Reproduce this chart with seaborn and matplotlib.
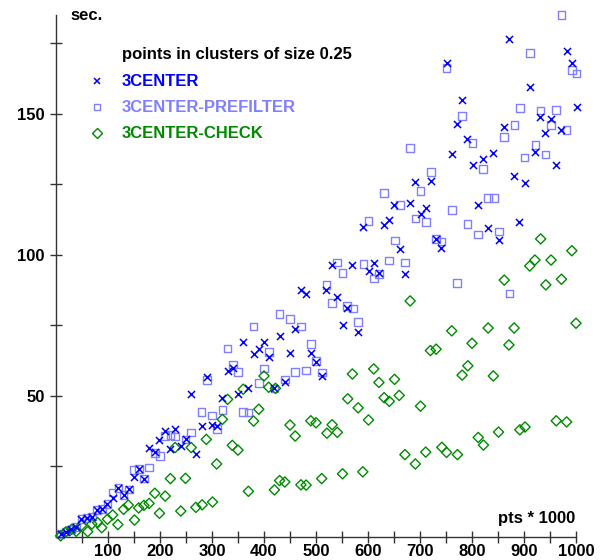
import matplotlib
matplotlib.use("Agg")
import matplotlib.pyplot as plt
import seaborn as sns
import pandas as pd

# ---------------- data ----------------
center_x = [9, 19, 29, 38, 49, 59, 69, 79, 89, 99, 109, 120, 130, 140, 150, 160, 170, 179, 190, 199,
            210, 219, 229, 240, 250, 260, 269, 280, 290, 300, 310, 320, 330, 340, 350, 360, 370, 380, 390, 400,
            410, 420, 430, 440, 450, 460, 471, 481, 490, 500, 511, 520, 530, 540, 551, 560, 570, 581, 590, 601,
            611, 621, 631, 641, 650, 662, 671, 681, 690, 701, 711, 721, 731, 741, 751, 761, 771, 781, 791, 801,
            811, 822, 831, 841, 852, 862, 872, 881, 891, 902, 912, 921, 931, 941, 952, 962, 971, 982, 992, 1001]
center_y = [0.9, 1.8, 2.6, 3.5, 6.2, 6.6, 7.1, 9.5, 9.9, 11.6, 13.6, 17.2, 14.7, 16.8, 21.1, 23.9, 20.6, 31.6, 29.9, 34.3,
            37.6, 31.0, 38.1, 32.2, 34.5, 50.6, 29.3, 39.4, 56.7, 39.6, 39.3, 49.1, 58.8, 59.7, 50.6, 69.1, 52.6, 64.8, 66.6, 69.0,
            63.6, 52.6, 71.3, 54.7, 65.2, 73.5, 87.5, 86.1, 65.2, 61.9, 57.0, 87.5, 96.2, 84.9, 75.2, 81.2, 96.3, 72.5, 109.9, 94.2,
            97.2, 93.6, 110.5, 112.3, 117.6, 102.0, 93.0, 118.2, 125.9, 114.3, 116.7, 126.2, 105.5, 102.5, 168.1, 135.6, 146.2, 155.0, 141.1, 131.9,
            117.5, 134.0, 109.4, 136.2, 105.1, 145.2, 176.4, 127.9, 111.6, 125.3, 159.4, 136.4, 148.9, 143.0, 148.1, 131.9, 144.2, 172.2, 168.1, 152.5]

prefilter_x = [9, 19, 29, 38, 49, 59, 69, 79, 89, 99, 109, 120, 130, 140, 150, 160, 169, 179, 190, 200,
               210, 220, 229, 249, 260, 280, 290, 300, 310, 320, 330, 340, 350, 360, 370, 380, 390, 400, 410, 420,
               430, 440, 450, 460, 471, 481, 490, 500, 511, 520, 531, 540, 551, 560, 571, 581, 591, 601, 611, 621,
               631, 640, 652, 662, 671, 681, 691, 701, 711, 721, 731, 741, 751, 761, 771, 781, 791, 801, 811, 821,
               831, 842, 852, 862, 872, 882, 892, 901, 912, 922, 932, 941, 952, 962, 972, 982, 992, 1001]
prefilter_y = [0.9, 1.8, 2.6, 3.5, 6.2, 6.6, 7.1, 9.5, 9.9, 11.6, 15.7, 17.2, 14.7, 16.8, 23.7, 23.9, 20.6, 24.6, 29.6, 28.6,
               35.8, 36.1, 35.5, 34.5, 37.0, 44.3, 55.5, 43.0, 38.1, 44.9, 66.8, 61.1, 58.4, 44.3, 44.1, 74.5, 54.5, 59.7, 65.6, 52.6,
               78.9, 55.8, 77.2, 58.5, 74.5, 58.9, 68.3, 62.4, 58.2, 89.3, 82.8, 97.2, 93.6, 81.9, 80.9, 76.1, 96.7, 111.9, 91.5, 93.2,
               121.8, 97.9, 105.0, 117.6, 97.2, 137.9, 112.9, 122.6, 111.5, 129.4, 105.5, 104.7, 166.3, 115.9, 89.9, 149.2, 110.8, 139.7, 107.2, 130.4,
               120.0, 120.0, 108.2, 141.8, 86.3, 145.9, 152.0, 134.4, 171.6, 138.8, 151.2, 135.6, 145.9, 151.4, 184.9, 144.2, 165.5, 164.2]

check_x = [9, 19, 30, 39, 49, 61, 69, 80, 88, 99, 109, 119, 130, 139, 151, 159, 169, 179, 190, 199,
           210, 220, 229, 240, 249, 260, 269, 281, 289, 301, 309, 320, 330, 339, 350, 360, 370, 380, 390, 400,
           409, 420, 422, 430, 440, 450, 460, 471, 481, 490, 500, 511, 521, 531, 541, 551, 561, 570, 581, 590,
           601, 611, 621, 631, 641, 651, 660, 671, 681, 691, 701, 711, 720, 731, 742, 751, 761, 772, 781, 792,
           800, 812, 822, 831, 841, 851, 862, 871, 881, 892, 902, 911, 921, 932, 942, 952, 962, 972, 982, 992, 1000]
check_y = [0.3, 1.7, 2.6, 1.9, 4.0, 1.8, 4.5, 5.0, 3.2, 6.2, 7.7, 4.3, 9.7, 11.2, 5.9, 10.2, 11.1, 11.8, 15.4, 8.3,
           14.4, 20.6, 31.6, 9.1, 20.7, 31.6, 10.4, 11.3, 34.5, 12.3, 25.8, 41.6, 48.7, 32.4, 30.7, 52.3, 16.1, 41.0, 45.2, 57.0,
           53.0, 16.6, 52.6, 19.9, 19.4, 39.6, 35.7, 18.4, 18.3, 41.1, 40.4, 20.6, 36.7, 39.7, 37.0, 22.3, 48.9, 57.7, 45.7, 23.0,
           41.4, 59.5, 54.7, 49.3, 48.0, 55.8, 50.1, 29.1, 83.6, 25.8, 46.3, 30.0, 66.0, 66.5, 31.7, 29.9, 73.0, 29.1, 57.3, 60.6,
           68.6, 35.2, 32.5, 74.0, 57.0, 37.1, 91.0, 68.0, 74.0, 37.9, 38.9, 96.0, 98.1, 105.6, 89.3, 98.1, 41.1, 91.3, 40.7, 101.4, 75.7]

series_names = ["3CENTER", "3CENTER-PREFILTER", "3CENTER-CHECK"]
legend_title = "points in clusters of size 0.25"
x_ticks = list(range(50, 1001, 50))
x_tick_labels = [str(v) if v % 100 == 0 else "" for v in x_ticks]
y_ticks = [25, 50, 75, 100, 125, 150, 175]
y_tick_labels = [str(v) if v % 50 == 0 else "" for v in y_ticks]
y_unit = "sec."
x_unit = "pts * 1000"

# ---------------- style ----------------
sns.set_theme(style="white")
plt.rcParams["font.family"] = ["Liberation Sans", "DejaVu Sans"]
plt.rcParams["font.weight"] = "bold"
FS = 12

colors = {"3CENTER": "#0000ff", "3CENTER-PREFILTER": "#8080ff", "3CENTER-CHECK": "#008a00"}

fig = plt.figure(figsize=(6.06, 5.6), dpi=100)
W, H = 606, 560
ax = fig.add_axes([56 / W, 23.3 / H, 520 / W, 521.7 / H])

df_c = pd.DataFrame({"x": center_x, "y": center_y})
df_p = pd.DataFrame({"x": prefilter_x, "y": prefilter_y})
df_k = pd.DataFrame({"x": check_x, "y": check_y})

sns.scatterplot(data=df_p, x="x", y="y", ax=ax, marker="s", s=30,
                facecolors="none", edgecolor=colors["3CENTER-PREFILTER"], linewidth=1.0,
                clip_on=False, zorder=3)
sns.scatterplot(data=df_c, x="x", y="y", ax=ax, marker="x", s=26,
                color=colors["3CENTER"], linewidth=1.1, clip_on=False, zorder=4)
sns.scatterplot(data=df_k, x="x", y="y", ax=ax, marker="D", s=27,
                facecolors="none", edgecolor=colors["3CENTER-CHECK"], linewidth=1.0,
                clip_on=False, zorder=3)

ax.set_xlim(0, 1000)
ax.set_ylim(0, 185)
ax.set_xticks(x_ticks)
ax.set_xticklabels(x_tick_labels)
ax.set_yticks(y_ticks)
ax.set_yticklabels(y_tick_labels)
ax.set_xlabel("")
ax.set_ylabel("")
for side in ["top", "right"]:
    ax.spines[side].set_visible(False)
for side in ["left", "bottom"]:
    ax.spines[side].set_color("#333333")
    ax.spines[side].set_linewidth(1.0)
ax.tick_params(axis="both", direction="inout", length=8, width=1.0, color="#333333",
               labelsize=FS, labelcolor="black")
ax.tick_params(axis="x", pad=1.5, bottom=True)
ax.tick_params(axis="y", pad=4, left=True)
for lab in ax.get_xticklabels() + ax.get_yticklabels():
    lab.set_fontweight("bold")

# axis unit labels
fig.text(70 / W, 1 - 15 / H, y_unit, ha="left", va="center", fontsize=FS, fontweight="bold", color="black")
fig.text(575 / W, 1 - 518 / H, x_unit, ha="right", va="center", fontsize=FS, fontweight="bold", color="black")

# legend (manual)
fig.text(122 / W, 1 - 55 / H, legend_title, ha="left", va="center", fontsize=FS, fontweight="bold", color="black")
leg_markers = {"3CENTER": ("x", "full"), "3CENTER-PREFILTER": ("s", "none"), "3CENTER-CHECK": ("D", "none")}
for i, name in enumerate(series_names):
    yy = 1 - (81 + 26 * i) / H
    mk, fill = leg_markers[name]
    c = colors[name]
    if fill == "none":
        fig.add_artist(plt.Line2D([97 / W], [yy], marker=mk, markersize=5 if mk == "s" else 5,
                                  markerfacecolor="none", markeredgecolor=c, markeredgewidth=1.0,
                                  linestyle="none", transform=fig.transFigure))
    else:
        fig.add_artist(plt.Line2D([97 / W], [yy], marker=mk, markersize=5, color=c,
                                  markeredgewidth=1.1, linestyle="none", transform=fig.transFigure))
    fig.text(122 / W, yy, name, ha="left", va="center", fontsize=FS, fontweight="bold", color=c)

fig.savefig("out.png", dpi=100)
